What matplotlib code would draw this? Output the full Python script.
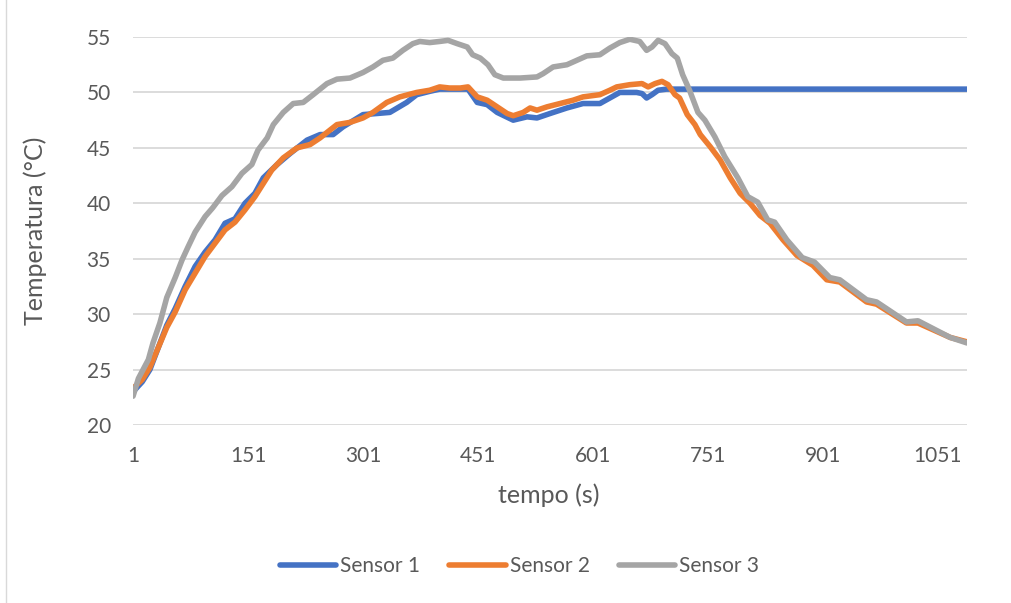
import matplotlib.pyplot as plt
from matplotlib.lines import Line2D

# Sensor 1 (blue)
t1 = [1, 13, 23, 34, 45, 56, 69, 82, 95, 108, 121, 134, 147, 160, 171, 189, 206, 228,
      245, 262, 275, 301, 319, 336, 358, 371, 388, 401, 428, 438, 450, 463, 476, 497,
      515, 528, 545, 567, 588, 610, 623, 636, 658, 665, 671, 678, 686, 697, 1089]
s1 = [23.0, 23.9, 25.0, 27.0, 29.0, 30.5, 32.5, 34.3, 35.6, 36.7, 38.2, 38.6, 40.0, 40.9,
      42.3, 43.5, 44.5, 45.7, 46.2, 46.2, 46.9, 48.0, 48.1, 48.2, 49.1, 49.8, 50.1, 50.3,
      50.3, 50.3, 49.1, 48.9, 48.2, 47.5, 47.8, 47.7, 48.1, 48.6, 49.0, 49.0, 49.5, 50.0,
      50.0, 49.9, 49.5, 49.8, 50.2, 50.3, 50.3]

# Sensor 2 (orange)
t2 = [1, 13, 23, 34, 45, 56, 69, 82, 95, 108, 121, 134, 147, 160, 171, 182, 197, 215,
      232, 245, 267, 284, 301, 314, 332, 349, 371, 388, 401, 414, 428, 438, 450, 463,
      476, 489, 497, 510, 519, 528, 541, 558, 575, 588, 610, 623, 632, 649, 665, 673,
      682, 691, 699, 708, 714, 724, 734, 741, 754, 767, 780, 793, 806, 819, 832, 849,
      867, 888, 906, 923, 958, 971, 1010, 1025, 1067, 1089]
s2 = [23.3, 24.1, 25.2, 27.0, 28.8, 30.2, 32.2, 33.7, 35.2, 36.4, 37.6, 38.3, 39.4, 40.6,
      41.8, 43.0, 44.1, 45.0, 45.3, 45.9, 47.1, 47.3, 47.7, 48.2, 49.1, 49.6, 50.0, 50.2,
      50.5, 50.4, 50.4, 50.5, 49.6, 49.3, 48.7, 48.1, 47.9, 48.2, 48.6, 48.4, 48.7, 49.0,
      49.3, 49.6, 49.8, 50.2, 50.5, 50.7, 50.8, 50.5, 50.8, 51.0, 50.7, 49.8, 49.5, 48.0,
      47.1, 46.2, 45.1, 43.9, 42.3, 40.9, 40.0, 38.9, 38.2, 36.7, 35.3, 34.4, 33.1, 32.9,
      31.1, 30.9, 29.2, 29.2, 27.9, 27.5]

# Sensor 3 (gray)
t3 = [1, 8, 21, 27, 36, 45, 56, 65, 73, 82, 95, 105, 117, 130, 143, 156, 164, 176, 184,
      197, 210, 223, 236, 254, 267, 284, 301, 314, 327, 340, 353, 366, 375, 388, 401,
      412, 424, 437, 444, 454, 464, 473, 484, 506, 528, 536, 549, 567, 580, 593, 610,
      623, 636, 649, 662, 671, 678, 686, 695, 704, 711, 718, 727, 738, 747, 760, 773,
      790, 803, 816, 829, 838, 854, 874, 890, 910, 923, 958, 971, 1010, 1025, 1067, 1089]
s3 = [22.6, 24.2, 25.9, 27.4, 29.2, 31.5, 33.3, 34.9, 36.1, 37.4, 38.8, 39.6, 40.7, 41.5,
      42.7, 43.5, 44.8, 45.9, 47.1, 48.2, 49.0, 49.1, 49.8, 50.8, 51.2, 51.3, 51.8, 52.3,
      52.9, 53.1, 53.8, 54.4, 54.6, 54.5, 54.6, 54.7, 54.4, 54.1, 53.4, 53.1, 52.5, 51.6,
      51.3, 51.3, 51.4, 51.7, 52.3, 52.5, 52.9, 53.3, 53.4, 54.0, 54.5, 54.8, 54.6, 53.8,
      54.1, 54.7, 54.4, 53.5, 53.1, 51.6, 50.2, 48.2, 47.5, 46.0, 44.2, 42.3, 40.6, 40.1,
      38.5, 38.3, 36.7, 35.1, 34.7, 33.3, 33.1, 31.3, 31.1, 29.3, 29.4, 27.9, 27.4]

x_ticks = [1, 151, 301, 451, 601, 751, 901, 1051]
y_ticks = [20, 25, 30, 35, 40, 45, 50, 55]

plt.rcParams['font.family'] = ['Lato', 'DejaVu Sans']
text_color = '#595959'

fig = plt.figure(figsize=(10.11, 6.03), dpi=100)
ax = fig.add_axes([0.1316, 0.2952, 0.8249, 0.6434])

ax.plot(t1, s1, color='#4472C4', lw=4, solid_capstyle='round', solid_joinstyle='round', label='Sensor 1')
ax.plot(t2, s2, color='#ED7D31', lw=4, solid_capstyle='round', solid_joinstyle='round', label='Sensor 2')
ax.plot(t3, s3, color='#A5A5A5', lw=4, solid_capstyle='round', solid_joinstyle='round', label='Sensor 3')

ax.set_xlim(1, 1089)
ax.set_ylim(20, 55)
ax.set_xticks(x_ticks)
ax.set_yticks(y_ticks)
ax.tick_params(length=0, labelsize=15, colors=text_color)
ax.tick_params(axis='x', pad=15)
ax.tick_params(axis='y', pad=16)
ax.grid(axis='y', color='#D9D9D9', lw=1.3)
ax.set_axisbelow(True)
for s in ax.spines.values():
    s.set_visible(False)

ax.set_xlabel('tempo (s)', fontsize=18, color=text_color, va='center')
ax.set_ylabel('Temperatura (°C)', fontsize=18, color=text_color, va='center')
ax.xaxis.set_label_coords(0.498, -0.18)
ax.yaxis.set_label_coords(-0.1175, 0.5)

fig.legend(loc='center', bbox_to_anchor=(0.514, 0.061), ncol=3, frameon=False,
           fontsize=15, handlelength=2.7, columnspacing=1.4, handletextpad=0.2,
           labelcolor=text_color)

# chart border on the left
fig.add_artist(Line2D([0.006, 0.006], [0, 1], transform=fig.transFigure, color='#D9D9D9', lw=1))

fig.savefig('out.png', dpi=100)
